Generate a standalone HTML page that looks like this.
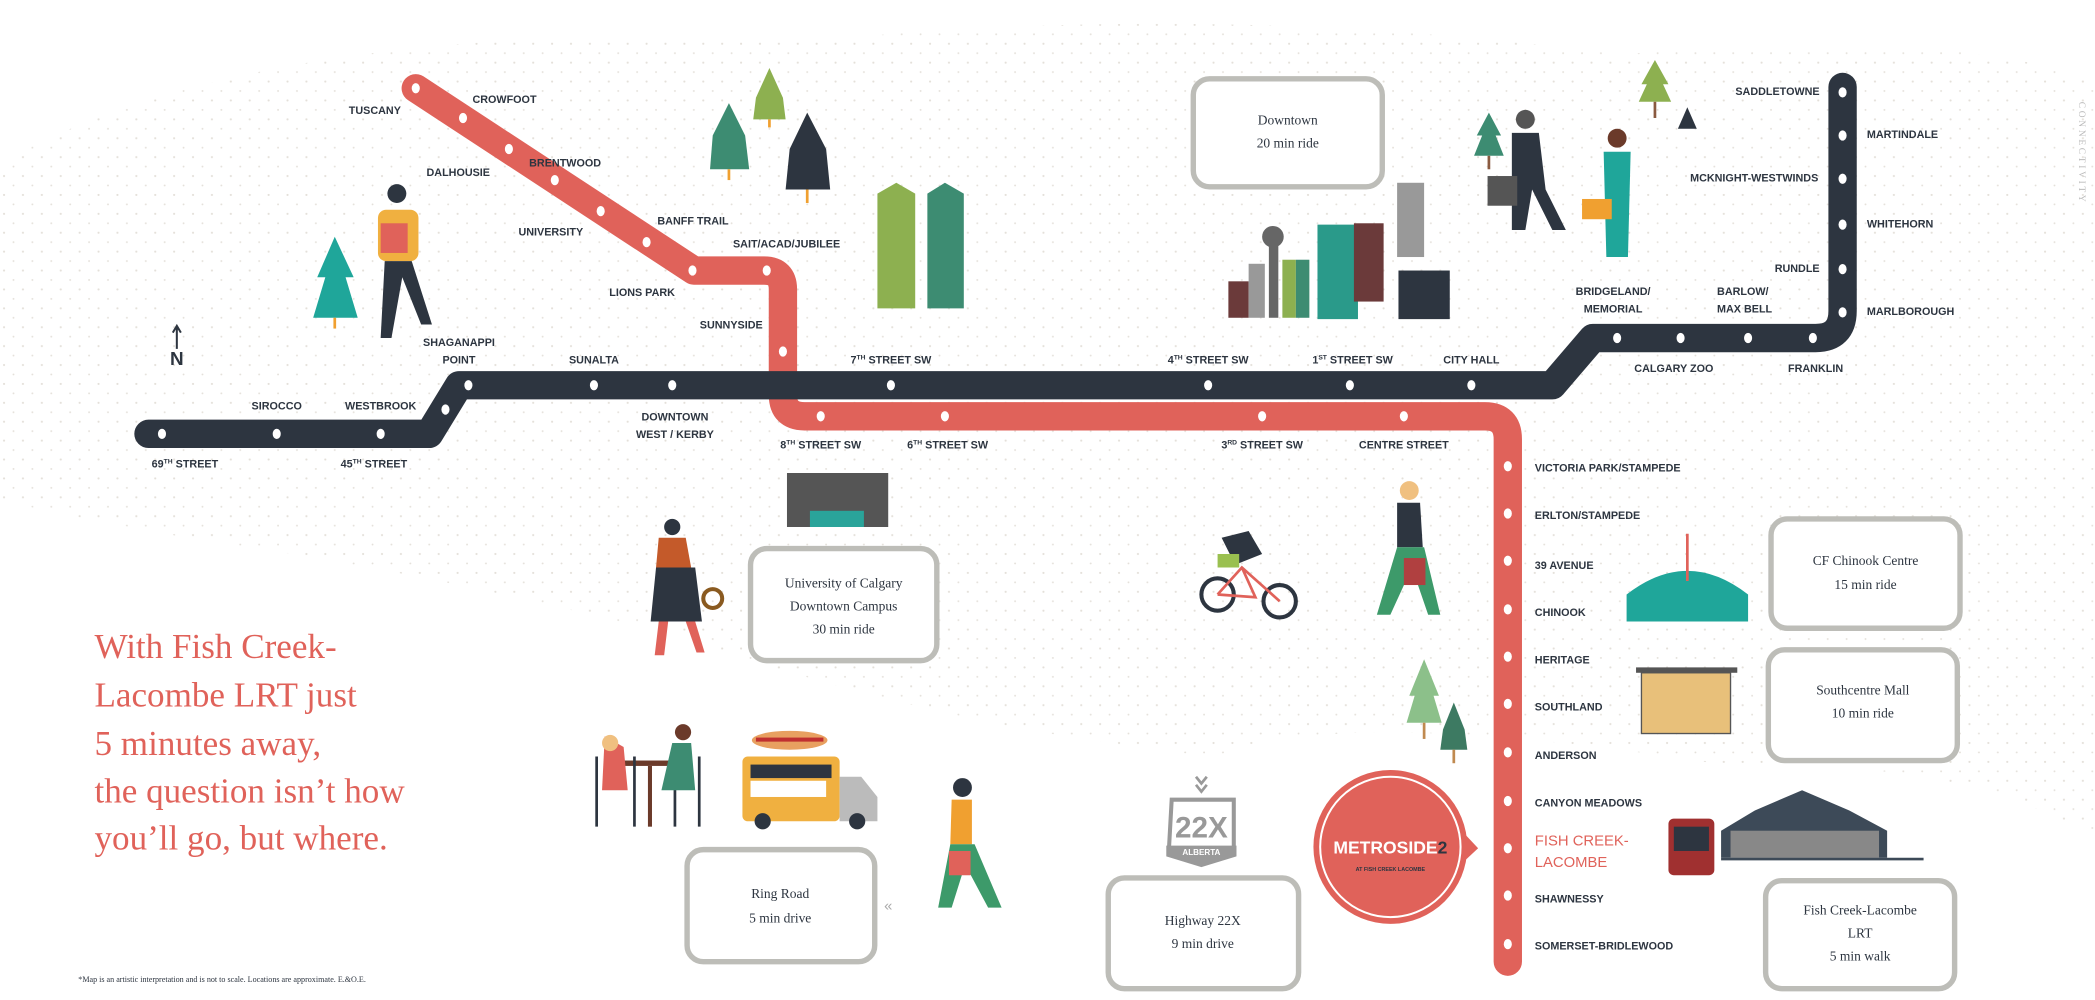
<!DOCTYPE html>
<html><head><meta charset="utf-8">
<style>
html,body{margin:0;padding:0;background:#fff;}
svg{display:block;}
.l{font-family:"Liberation Sans Narrow","Liberation Sans",sans-serif;font-size:8px;font-weight:bold;fill:#2d3540;}
.b{font-family:"Liberation Serif",serif;font-size:10px;fill:#2d3540;text-anchor:middle;}
.big{font-family:"Liberation Serif",serif;font-size:26px;fill:#e0625a;}
.m{text-anchor:middle;}
.e{text-anchor:end;}
</style></head><body>
<svg width="2095" height="1000" viewBox="0 0 1552 740" xmlns="http://www.w3.org/2000/svg">
<defs>
<pattern id="dots" width="14" height="14" patternUnits="userSpaceOnUse">
<circle cx="3" cy="4" r="0.8" fill="#ddd8d0"/><circle cx="10" cy="11" r="0.7" fill="#ddd8d0"/>
</pattern>
</defs>
<rect width="1552" height="740" fill="#fff"/>
<path d="M0,120 Q200,10 600,30 Q900,0 1200,40 Q1450,20 1552,60 V620 Q1450,560 1300,570 Q1000,520 900,560 Q700,540 500,470 Q300,420 150,400 Q40,380 0,370Z" fill="url(#dots)" opacity="0.8"/>

<path d="M308,65 L514,200 H566 Q580,200 580,214 V292 Q580,308 596,308 H1100 Q1117,308 1117,325 V712" fill="none" stroke="#e0625a" stroke-width="21" stroke-linecap="round" stroke-linejoin="round"/>
<path d="M110,321 H318 L340,285 H1150 L1180,250 H1345 Q1365,250 1365,230 V64" fill="none" stroke="#2d3540" stroke-width="21" stroke-linecap="round" stroke-linejoin="round"/>

<g fill="#fff">
<ellipse cx="308" cy="65" rx="3" ry="3.8"/><ellipse cx="343" cy="87" rx="3" ry="3.8"/><ellipse cx="377" cy="110" rx="3" ry="3.8"/><ellipse cx="411" cy="133" rx="3" ry="3.8"/><ellipse cx="445" cy="156" rx="3" ry="3.8"/><ellipse cx="479" cy="179" rx="3" ry="3.8"/><ellipse cx="513" cy="200" rx="3" ry="3.8"/><ellipse cx="568" cy="200" rx="3" ry="3.8"/><ellipse cx="580" cy="260" rx="3" ry="3.8"/>
<ellipse cx="608" cy="308" rx="3" ry="3.8"/><ellipse cx="700" cy="308" rx="3" ry="3.8"/><ellipse cx="935" cy="308" rx="3" ry="3.8"/><ellipse cx="1040" cy="308" rx="3" ry="3.8"/>
<ellipse cx="1117" cy="345" rx="3" ry="3.8"/><ellipse cx="1117" cy="380" rx="3" ry="3.8"/><ellipse cx="1117" cy="415" rx="3" ry="3.8"/><ellipse cx="1117" cy="451" rx="3" ry="3.8"/><ellipse cx="1117" cy="486" rx="3" ry="3.8"/><ellipse cx="1117" cy="521" rx="3" ry="3.8"/><ellipse cx="1117" cy="557" rx="3" ry="3.8"/><ellipse cx="1117" cy="593" rx="3" ry="3.8"/><ellipse cx="1117" cy="628" rx="3" ry="3.8"/><ellipse cx="1117" cy="663" rx="3" ry="3.8"/><ellipse cx="1117" cy="699" rx="3" ry="3.8"/>
<ellipse cx="120" cy="321" rx="3" ry="3.8"/><ellipse cx="205" cy="321" rx="3" ry="3.8"/><ellipse cx="282" cy="321" rx="3" ry="3.8"/><ellipse cx="330" cy="303" rx="3" ry="3.8"/><ellipse cx="347" cy="285" rx="3" ry="3.8"/><ellipse cx="440" cy="285" rx="3" ry="3.8"/><ellipse cx="498" cy="285" rx="3" ry="3.8"/><ellipse cx="660" cy="285" rx="3" ry="3.8"/><ellipse cx="895" cy="285" rx="3" ry="3.8"/><ellipse cx="1000" cy="285" rx="3" ry="3.8"/><ellipse cx="1090" cy="285" rx="3" ry="3.8"/>
<ellipse cx="1198" cy="250" rx="3" ry="3.8"/><ellipse cx="1245" cy="250" rx="3" ry="3.8"/><ellipse cx="1295" cy="250" rx="3" ry="3.8"/><ellipse cx="1343" cy="250" rx="3" ry="3.8"/>
<ellipse cx="1365" cy="68" rx="3" ry="3.8"/><ellipse cx="1365" cy="100" rx="3" ry="3.8"/><ellipse cx="1365" cy="132" rx="3" ry="3.8"/><ellipse cx="1365" cy="166" rx="3" ry="3.8"/><ellipse cx="1365" cy="199" rx="3" ry="3.8"/><ellipse cx="1365" cy="231" rx="3" ry="3.8"/>
</g>

<g class="l">
<text x="297" y="84" class="e">TUSCANY</text>
<text x="350" y="76">CROWFOOT</text>
<text x="363" y="130" class="e">DALHOUSIE</text>
<text x="392" y="123">BRENTWOOD</text>
<text x="432" y="174" class="e">UNIVERSITY</text>
<text x="487" y="166">BANFF TRAIL</text>
<text x="543" y="183">SAIT/ACAD/JUBILEE</text>
<text x="500" y="219" class="e">LIONS PARK</text>
<text x="565" y="243" class="e">SUNNYSIDE</text>
<text x="340" y="256" class="m">SHAGANAPPI</text>
<text x="340" y="269" class="m">POINT</text>
<text x="440" y="269" class="m">SUNALTA</text>
<text x="660" y="269" class="m">7<tspan font-size="5" dy="-3">TH</tspan><tspan dy="3"> STREET SW</tspan></text>
<text x="895" y="269" class="m">4<tspan font-size="5" dy="-3">TH</tspan><tspan dy="3"> STREET SW</tspan></text>
<text x="1002" y="269" class="m">1<tspan font-size="5" dy="-3">ST</tspan><tspan dy="3"> STREET SW</tspan></text>
<text x="1090" y="269" class="m">CITY HALL</text>
<text x="205" y="303" class="m">SIROCCO</text>
<text x="282" y="303" class="m">WESTBROOK</text>
<text x="137" y="346" class="m">69<tspan font-size="5" dy="-3">TH</tspan><tspan dy="3"> STREET</tspan></text>
<text x="277" y="346" class="m">45<tspan font-size="5" dy="-3">TH</tspan><tspan dy="3"> STREET</tspan></text>
<text x="500" y="311" class="m">DOWNTOWN</text>
<text x="500" y="324" class="m">WEST / KERBY</text>
<text x="608" y="332" class="m">8<tspan font-size="5" dy="-3">TH</tspan><tspan dy="3"> STREET SW</tspan></text>
<text x="702" y="332" class="m">6<tspan font-size="5" dy="-3">TH</tspan><tspan dy="3"> STREET SW</tspan></text>
<text x="935" y="332" class="m">3<tspan font-size="5" dy="-3">RD</tspan><tspan dy="3"> STREET SW</tspan></text>
<text x="1040" y="332" class="m">CENTRE STREET</text>
<text x="1195" y="218" class="m">BRIDGELAND/</text>
<text x="1195" y="231" class="m">MEMORIAL</text>
<text x="1272" y="218">BARLOW/</text>
<text x="1272" y="231">MAX BELL</text>
<text x="1240" y="275" class="m">CALGARY ZOO</text>
<text x="1345" y="275" class="m">FRANKLIN</text>
<text x="1348" y="70" class="e">SADDLETOWNE</text>
<text x="1383" y="102">MARTINDALE</text>
<text x="1347" y="134" class="e">MCKNIGHT-WESTWINDS</text>
<text x="1383" y="168">WHITEHORN</text>
<text x="1348" y="201" class="e">RUNDLE</text>
<text x="1383" y="233">MARLBOROUGH</text>
<text x="1137" y="349">VICTORIA PARK/STAMPEDE</text>
<text x="1137" y="384">ERLTON/STAMPEDE</text>
<text x="1137" y="421">39 AVENUE</text>
<text x="1137" y="456">CHINOOK</text>
<text x="1137" y="491">HERITAGE</text>
<text x="1137" y="526">SOUTHLAND</text>
<text x="1137" y="562">ANDERSON</text>
<text x="1137" y="597">CANYON MEADOWS</text>
<text x="1137" y="626" style="fill:#e0625a;font-size:11px;font-weight:normal">FISH CREEK-</text>
<text x="1137" y="642" style="fill:#e0625a;font-size:11px;font-weight:normal">LACOMBE</text>
<text x="1137" y="668">SHAWNESSY</text>
<text x="1137" y="703">SOMERSET-BRIDLEWOOD</text>
</g>

<path d="M131,258 V242 M128,246 L131,241 L134,246" stroke="#2d3540" stroke-width="1.5" fill="none"/>
<text x="131" y="270" class="l m" style="font-size:14px">N</text>

<text transform="translate(1540,75) rotate(90)" style="font-family:'Liberation Serif',serif;font-size:7px;letter-spacing:2px;fill:#bbb">CONNECTIVITY</text>

<g fill="#fff" stroke="#bdbdb8" stroke-width="4">
<rect x="884" y="58" width="140" height="80" rx="12"/>
<rect x="556" y="406" width="138" height="83" rx="12"/>
<rect x="1312" y="384" width="140" height="81" rx="12"/>
<rect x="1310" y="481" width="140" height="82" rx="12"/>
<rect x="1308" y="652" width="140" height="80" rx="12"/>
<rect x="821" y="650" width="141" height="82" rx="12"/>
<rect x="509" y="629" width="139" height="83" rx="12"/>
</g>
<g class="b">
<text x="954" y="92">Downtown</text><text x="954" y="109">20 min ride</text>
<text x="625" y="435">University of Calgary</text><text x="625" y="452">Downtown Campus</text><text x="625" y="469">30 min ride</text>
<text x="1382" y="418">CF Chinook Centre</text><text x="1382" y="436">15 min ride</text>
<text x="1380" y="514">Southcentre Mall</text><text x="1380" y="531">10 min ride</text>
<text x="1378" y="677">Fish Creek-Lacombe</text><text x="1378" y="694">LRT</text><text x="1378" y="711">5 min walk</text>
<text x="891" y="685">Highway 22X</text><text x="891" y="702">9 min drive</text>
<text x="578" y="665">Ring Road</text><text x="578" y="683">5 min drive</text>
</g>

<g class="big">
<text x="70" y="487">With Fish Creek-</text>
<text x="70" y="523">Lacombe LRT just</text>
<text x="70" y="559">5 minutes away,</text>
<text x="70" y="594">the question isn’t how</text>
<text x="70" y="629">you’ll go, but where.</text>
</g>
<text x="58" y="727" style="font-family:'Liberation Serif',serif;font-size:6px;fill:#2d3540">*Map is an artistic interpretation and is not to scale. Locations are approximate. E.&amp;O.E.</text>

<g>
<path d="M248,175 L262,205 L256,205 L265,235 L232,235 L241,205 L235,205Z" fill="#1fa69a"/><rect x="247" y="235" width="2" height="8" fill="#f0a030"/>
<path d="M540,76 L552,100 L555,125 L526,125 L528,100Z" fill="#3d8c72"/><rect x="539" y="125" width="2" height="8" fill="#f0a030"/>
<path d="M570,50 L580,72 L582,88 L558,88 L560,72Z" fill="#8db050"/><rect x="569" y="88" width="2" height="6" fill="#f0a030"/>
<path d="M598,83 L612,110 L615,140 L582,140 L585,110Z" fill="#2d3540"/><rect x="597" y="140" width="2" height="10" fill="#f0a030"/>
<path d="M1103,83 L1112,100 L1108,100 L1114,115 L1092,115 L1098,100 L1094,100Z" fill="#3d8c72"/><rect x="1102" y="115" width="2" height="10" fill="#8a5a40"/>
<path d="M1226,44 L1236,62 L1232,62 L1238,75 L1214,75 L1220,62 L1216,62Z" fill="#8db050"/><rect x="1225" y="75" width="2" height="12" fill="#8a5a40"/>
<path d="M1250,79 L1257,95 L1243,95Z" fill="#2d3540"/>
<path d="M1055,488 L1066,515 L1062,515 L1068,535 L1042,535 L1048,515 L1044,515Z" fill="#8cc08a"/><rect x="1054" y="535" width="2" height="12" fill="#c08a50"/>
<path d="M1077,520 L1085,540 L1087,555 L1067,555 L1069,540Z" fill="#3d7a62"/><rect x="1076" y="555" width="2" height="10" fill="#c08a50"/>
</g>

<path d="M650,143 L664,135 L678,143 V228 H650Z" fill="#8db050"/>
<path d="M687,143 L700,135 L714,143 V228 H687Z" fill="#3d8c72"/>
<rect x="583" y="350" width="75" height="40" fill="#555"/><rect x="600" y="378" width="40" height="12" fill="#2aa49a"/>
<rect x="910" y="208" width="15" height="27" fill="#6b3a3a"/>
<rect x="925" y="195" width="12" height="40" fill="#999"/>
<rect x="940" y="170" width="7" height="65" fill="#666"/><ellipse cx="943" cy="175" rx="8" ry="8" fill="#666"/>
<rect x="950" y="192" width="10" height="43" fill="#8db050"/><rect x="960" y="192" width="10" height="43" fill="#3d8c72"/>
<rect x="976" y="166" width="30" height="70" fill="#2a9a8a"/>
<rect x="1003" y="165" width="22" height="58" fill="#6b3a3a"/>
<rect x="1035" y="135" width="20" height="55" fill="#999"/>
<rect x="1036" y="200" width="38" height="36" fill="#2d3540"/>
<path d="M1205,460 V440 Q1250,405 1295,440 V460Z" fill="#1fa69a"/><line x1="1250" y1="395" x2="1250" y2="430" stroke="#e0625a" stroke-width="2"/>
<rect x="1212" y="494" width="75" height="4" fill="#555"/><rect x="1216" y="498" width="66" height="45" fill="#e8c07a" stroke="#555" stroke-width="1"/>
<rect x="1236" y="606" width="34" height="42" rx="4" fill="#a03030"/><rect x="1240" y="612" width="26" height="18" fill="#2d3540"/>
<path d="M1275,615 L1300,600 L1335,585 L1370,600 L1398,615 V635 H1275Z" fill="#3d4a58"/><rect x="1282" y="615" width="110" height="20" fill="#888"/>
<line x1="1275" y1="636" x2="1425" y2="636" stroke="#3d4a58" stroke-width="2"/>

<circle cx="294" cy="143" r="7" fill="#2d3540"/><rect x="280" y="155" width="30" height="38" rx="6" fill="#f0b040"/><rect x="282" y="165" width="20" height="22" fill="#e0625a"/><path d="M285,193 L282,250 H290 L298,205 L312,240 H320 L305,193Z" fill="#2d3540"/>
<circle cx="1130" cy="88" r="7" fill="#555"/><path d="M1120,98 H1140 L1145,140 L1160,170 H1150 L1135,140 L1130,170 H1120Z" fill="#2d3540"/><rect x="1102" y="130" width="22" height="22" fill="#555"/>
<circle cx="1198" cy="102" r="7" fill="#6b3a2a"/><path d="M1188,112 H1208 L1206,190 H1190Z" fill="#1fa69a"/><rect x="1172" y="147" width="22" height="15" fill="#f0a030"/>
<circle cx="498" cy="390" r="6" fill="#2d3540"/><path d="M488,398 H508 L512,420 H486Z" fill="#c45a2a"/><path d="M486,420 H515 L520,460 H482Z" fill="#2d3540"/><path d="M488,460 L485,485 H492 L495,460 M508,460 L516,483 H522 L515,460" fill="#e0625a"/><circle cx="528" cy="443" r="7" fill="none" stroke="#8a5a20" stroke-width="3"/>
<circle cx="1044" cy="363" r="7" fill="#f0c080"/><path d="M1035,372 H1052 L1054,405 H1035Z" fill="#2d3540"/><path d="M1035,405 H1055 L1067,455 H1058 L1046,420 L1030,455 H1020Z" fill="#3d9a6a"/><rect x="1040" y="413" width="16" height="20" fill="#b04040"/>
<circle cx="902" cy="440" r="12" fill="none" stroke="#2d3540" stroke-width="3"/><circle cx="948" cy="445" r="12" fill="none" stroke="#2d3540" stroke-width="3"/><path d="M902,440 L920,420 L948,445 M920,420 L930,442 L902,440" stroke="#e0625a" stroke-width="2" fill="none"/><path d="M905,398 L925,393 L935,410 L915,418Z" fill="#2d3540"/><rect x="902" y="410" width="16" height="10" fill="#9ac050"/>
<rect x="460" y="563" width="45" height="4" fill="#6b3a2a"/><rect x="480" y="567" width="3" height="45" fill="#6b3a2a"/>
<path d="M442,560 V612 M470,560 V612 M500,560 V612 M518,560 V612" stroke="#2d3540" stroke-width="2"/>
<path d="M448,545 L462,553 L465,585 H446Z" fill="#e0625a"/><circle cx="452" cy="550" r="6" fill="#f0c080"/>
<path d="M498,550 L512,550 L515,585 H490Z" fill="#3d8c72"/><circle cx="506" cy="542" r="6" fill="#6b3a2a"/>
<rect x="550" y="560" width="72" height="48" rx="4" fill="#f0b040"/><rect x="556" y="566" width="60" height="10" fill="#2d3540"/><rect x="556" y="578" width="56" height="12" fill="#fff"/><path d="M622,575 H638 L650,590 V608 H622Z" fill="#bbb"/><circle cx="565" cy="608" r="6" fill="#2d3540"/><circle cx="635" cy="608" r="6" fill="#2d3540"/><ellipse cx="585" cy="548" rx="28" ry="7" fill="#e8a060"/><rect x="560" y="546" width="50" height="3" fill="#c03030"/>
<circle cx="713" cy="583" r="7" fill="#2d3540"/><path d="M705,592 H720 L720,625 H704Z" fill="#f0a030"/><path d="M704,625 H722 L742,672 H732 L715,640 L705,672 H695Z" fill="#3d9a6a"/><rect x="703" y="630" width="16" height="18" fill="#e0625a"/>
<text x="655" y="674" style="font-family:'Liberation Sans',sans-serif;font-size:11px;fill:#aaa">«</text>

<path d="M886,575 L890,580 L894,575 M886,581 L890,586 L894,581" stroke="#999" stroke-width="2" fill="none"/>
<path d="M868,592 H914 V628 H866Z" fill="#fff" stroke="#999" stroke-width="3"/>
<text x="890" y="620" class="m" style="font-family:'Liberation Sans Narrow',sans-serif;font-weight:bold;font-size:22px;fill:#999">22X</text>
<path d="M864,626 H916 V634 L890,642 L864,634Z" fill="#999"/>
<text x="890" y="633" class="m" style="font-family:'Liberation Sans',sans-serif;font-weight:bold;font-size:6px;fill:#fff">ALBERTA</text>

<path d="M1080,612 L1095,628 L1080,642Z" fill="#e0625a"/>
<circle cx="1030" cy="627" r="57" fill="#e0625a"/>
<circle cx="1030" cy="627" r="52" fill="none" stroke="#fff" stroke-width="1.5"/>
<text x="1030" y="632" class="m" style="font-family:'Liberation Sans Narrow',sans-serif;font-weight:bold;font-size:13px;fill:#fff">METROSIDE<tspan fill="#2d3540">2</tspan></text>
<text x="1030" y="645" class="m" style="font-family:'Liberation Sans',sans-serif;font-weight:bold;font-size:4px;fill:#2d3540">AT FISH CREEK LACOMBE</text>
</svg>
</body></html>
